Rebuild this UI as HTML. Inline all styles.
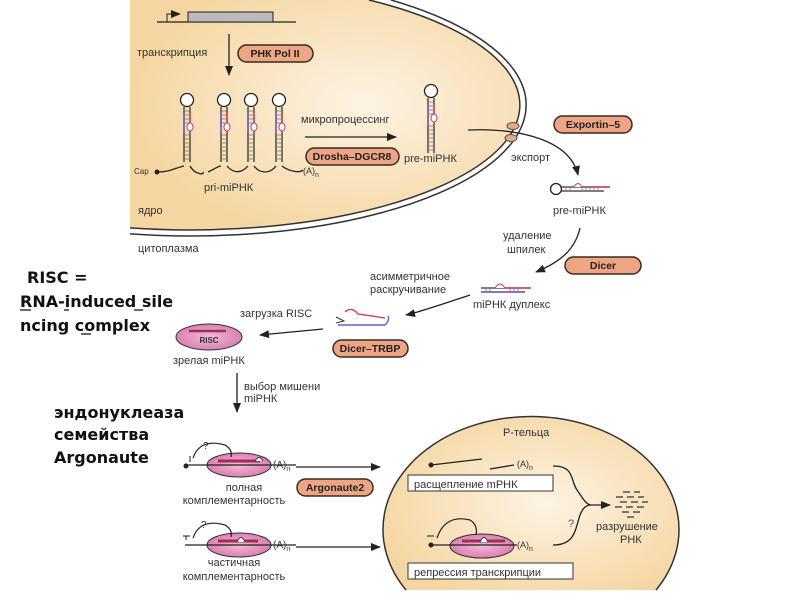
<!DOCTYPE html>
<html><head><meta charset="utf-8"><style>
html,body{margin:0;padding:0;background:#fff;width:800px;height:600px;overflow:hidden;}
svg{display:block;font-family:"Liberation Sans","DejaVu Sans",sans-serif;}
.t{font-size:11px;fill:#333;}
.b{font-family:"DejaVu Sans","Liberation Sans",sans-serif;font-weight:bold;font-size:16px;fill:#111;}
.pill{fill:#eda584;stroke:#3a2a22;stroke-width:1.5;}
.pt{font-size:10.5px;font-weight:bold;fill:#222;}
</style></head><body>
<svg width="800" height="600" viewBox="0 0 800 600">
<defs>
<radialGradient id="g1" cx="0.6" cy="0.45" r="0.6"><stop offset="0" stop-color="#fdf3e3"/><stop offset="1" stop-color="#f5d6a2"/></radialGradient>
<radialGradient id="g2" cx="0.55" cy="0.5" r="0.6"><stop offset="0" stop-color="#fdf3e3"/><stop offset="1" stop-color="#f5d6a2"/></radialGradient>
<radialGradient id="pk" cx="0.5" cy="0.5" r="0.6"><stop offset="0" stop-color="#f3b8d8"/><stop offset="1" stop-color="#d477aa"/></radialGradient>
<marker id="ar" markerWidth="10" markerHeight="8" refX="9" refY="4" orient="auto" markerUnits="userSpaceOnUse"><path d="M0,0 L10,4 L0,8 Z" fill="#222"/></marker>
<g id="hp">
<circle cx="0" cy="-7" r="6.5" fill="#fff" stroke="#222" stroke-width="1.3"/>
<path d="M-3,0 V55 M3,0 V55" stroke="#333" stroke-width="1.3"/>
<path d="M-3,4H3M-3,8H3M-3,12H3M-3,16H3M-3,28H3M-3,32H3M-3,36H3M-3,40H3M-3,44H3M-3,48H3M-3,52H3" stroke="#777" stroke-width="0.8"/>
<path d="M-3,6 V26" stroke="#6a5acd" stroke-width="1.5"/>
<path d="M3,6 V26" stroke="#d04060" stroke-width="1.5"/>
<ellipse cx="3" cy="20" rx="3" ry="4" fill="#fff" stroke="#c04060"/>
</g>
</defs>

<!-- nucleus -->
<path d="M130,0 L369,0 A330,125 0 0,1 130,227.9 Z" fill="url(#g1)" stroke="none"/>
<path d="M369,0 A330,125 0 0,1 130,227.9" fill="none" stroke="#333" stroke-width="1.5"/>
<path d="M391,0 A336,131 0 0,1 130,233.9" fill="none" stroke="#333" stroke-width="1.5"/>
<ellipse cx="513" cy="126" rx="6" ry="3.5" fill="#eda584" stroke="#555"/>
<ellipse cx="511" cy="138" rx="6" ry="3.5" fill="#eda584" stroke="#555"/>

<!-- gene -->
<path d="M157,22 H296" stroke="#222" stroke-width="1.3"/>
<rect x="188" y="12" width="85" height="10" fill="#bbb" stroke="#222"/>
<path d="M167,22 V14 H180" stroke="#222" fill="none" marker-end="url(#ar)"/>
<path d="M229,34 V75" stroke="#222" stroke-width="1.3" marker-end="url(#ar)"/>
<text class="t" x="137" y="56">транскрипция</text>
<rect class="pill" x="238" y="45" width="75" height="17" rx="8.5"/>
<text class="pt" x="275" y="57" text-anchor="middle">РНК Pol II</text>

<use href="#hp" x="187" y="107"/>
<use href="#hp" x="224" y="107"/>
<use href="#hp" x="251" y="107"/>
<use href="#hp" x="279" y="107"/>
<path d="M158,172 C170,172 175,168 184,166 M190,166 C195,175 205,175 203,172 M208,172 C215,169 218,166 221,166 M227,166 C232,172 240,175 248,166 M254,166 C260,174 270,174 276,166 M282,166 C290,172 300,173 303,170" stroke="#222" stroke-width="1.3" fill="none"/>
<circle cx="157" cy="172" r="2.5" fill="#222"/>
<text x="134" y="174" font-size="8" fill="#333">Cap</text>
<text x="303" y="174" font-size="9" fill="#333">(A)<tspan font-size="7" dy="3">n</tspan></text>
<text class="t" x="204" y="191">pri-miРНК</text>
<text class="t" x="138" y="214">ядро</text>
<text class="t" x="138" y="252">цитоплазма</text>

<path d="M305,137 H396" stroke="#222" stroke-width="1.3" marker-end="url(#ar)"/>
<text class="t" x="301" y="123">микропроцессинг</text>
<rect class="pill" x="306" y="148" width="93" height="17" rx="8.5"/>
<text class="pt" x="352" y="160" text-anchor="middle">Drosha–DGCR8</text>
<use href="#hp" x="431" y="98"/>
<text class="t" x="404" y="162">pre-miРНК</text>

<path d="M468,130 C520,128 570,140 578,175" stroke="#222" stroke-width="1.3" fill="none" marker-end="url(#ar)"/>
<text class="t" x="511" y="161">экспорт</text>
<rect class="pill" x="554" y="116" width="78" height="17" rx="8.5"/>
<text class="pt" x="593" y="128" text-anchor="middle">Exportin–5</text>
<circle cx="556" cy="189" r="5.5" fill="#fff" stroke="#222" stroke-width="1.3"/>
<path d="M561,187 H610 M561,191 H604" stroke="#333" stroke-width="1.3"/>
<path d="M566,187 V191 M570,187V191 M582,187V191 M586,187V191 M590,187V191 M594,187V191 M598,187V191" stroke="#777" stroke-width="0.8"/>
<path d="M574,187 Q578,180 582,187" fill="#fff" stroke="#c04060"/>
<path d="M586,187 H610" stroke="#d04060" stroke-width="1.5"/>
<text class="t" x="553" y="214">pre-miРНК</text>

<path d="M580,228 C575,250 560,262 536,272" stroke="#222" stroke-width="1.3" fill="none" marker-end="url(#ar)"/>
<text class="t" x="503" y="239">удаление</text>
<text class="t" x="507" y="253">шпилек</text>
<rect class="pill" x="565" y="257" width="76" height="17" rx="8.5"/>
<text class="pt" x="603" y="269" text-anchor="middle">Dicer</text>
<path d="M481,288 H531 M481,292 H525" stroke="#333" stroke-width="1.3"/>
<path d="M481,292 H522" stroke="#6a5acd" stroke-width="1.4"/>
<path d="M495,288 Q500,280 505,288" fill="#fff" stroke="#c04060"/>
<path d="M505,288 H531" stroke="#d04060" stroke-width="1.4"/>
<path d="M486,288V292 M490,288V292 M510,288V292 M514,288V292 M518,288V292" stroke="#777" stroke-width="0.8"/>
<text class="t" x="473" y="308">miРНК дуплекс</text>

<path d="M470,295 C440,305 420,312 406,315" stroke="#222" stroke-width="1.3" fill="none" marker-end="url(#ar)"/>
<text class="t" x="370" y="280">асимметричное</text>
<text class="t" x="370" y="293">раскручивание</text>
<path d="M345,312 Q352,306 358,314 L385,318" stroke="#d04060" stroke-width="1.4" fill="none"/>
<path d="M338,325 H385 Q390,320 388,316" stroke="#6a5acd" stroke-width="1.4" fill="none"/>
<path d="M336,317 L344,321 L336,323" stroke="#333" fill="none"/>
<text class="t" x="240" y="317">загрузка RISC</text>
<rect class="pill" x="333" y="340" width="75" height="17" rx="8.5"/>
<text class="pt" x="370" y="352" text-anchor="middle">Dicer–TRBP</text>
<path d="M323,329 L260,335" stroke="#222" stroke-width="1.3" marker-end="url(#ar)"/>

<ellipse cx="209" cy="337" rx="33" ry="13" fill="url(#pk)" stroke="#333"/>
<path d="M189,331 H226" stroke="#a03050" stroke-width="2.5"/>
<text x="209" y="343" font-size="8" font-weight="bold" fill="#333" text-anchor="middle">RISC</text>
<text class="t" x="173" y="364">зрелая miРНК</text>
<path d="M237,373 V412" stroke="#222" stroke-width="1.3" marker-end="url(#ar)"/>
<text class="t" x="244" y="390">выбор мишени</text>
<text class="t" x="244" y="402">miРНК</text>

<ellipse cx="239" cy="465" rx="32" ry="12" fill="url(#pk)" stroke="#333"/>
<path d="M185,465 H296" stroke="#222" stroke-width="1.3"/>
<circle cx="186" cy="466" r="2.5" fill="#222"/>
<path d="M218,461 H260" stroke="#a03050" stroke-width="3"/>
<path d="M255,461 Q259,454 263,461" fill="#fff" stroke="#333"/>
<path d="M193,458 Q200,438 225,445 Q233,450 231,457" stroke="#222" fill="none" stroke-width="1.2"/>
<path d="M190,456 V462" stroke="#222"/>
<text x="203" y="449" font-size="10" fill="#333">?</text>
<text x="273" y="468" font-size="10" fill="#333">(A)<tspan font-size="7" dy="3">n</tspan></text>
<path d="M296,467 H380" stroke="#222" stroke-width="1.3" marker-end="url(#ar)"/>
<text class="t" x="244" y="491" text-anchor="middle">полная</text>
<text class="t" x="234" y="504" text-anchor="middle">комплементарность</text>
<rect class="pill" x="297" y="479" width="76" height="17" rx="8.5"/>
<text class="pt" x="335" y="491" text-anchor="middle">Argonaute2</text>

<ellipse cx="239" cy="545" rx="32" ry="12" fill="url(#pk)" stroke="#333"/>
<path d="M185,545 H296" stroke="#222" stroke-width="1.3"/>
<path d="M218,541 H258" stroke="#a03050" stroke-width="3"/>
<path d="M237,542 Q241,533 245,542" fill="#fff" stroke="#333"/>
<path d="M193,538 Q200,518 225,525 Q233,530 231,537" stroke="#222" fill="none" stroke-width="1.2"/>
<path d="M183,536 H190 M186,536 V540" stroke="#222"/>
<text x="201" y="528" font-size="10" fill="#333">?</text>
<text x="273" y="548" font-size="10" fill="#333">(A)<tspan font-size="7" dy="3">n</tspan></text>
<path d="M296,547 H380" stroke="#222" stroke-width="1.3" marker-end="url(#ar)"/>
<text class="t" x="234" y="566" text-anchor="middle">частичная</text>
<text class="t" x="234" y="580" text-anchor="middle">комплементарность</text>

<path d="M406,590 A148,113 0 1,1 656,590 Z" fill="url(#g2)" stroke="none"/>
<path d="M406,590 A148,113 0 1,1 656,590" fill="none" stroke="#333" stroke-width="1.5"/>
<text class="t" x="503" y="436">Р-тельца</text>
<circle cx="431" cy="465" r="2.5" fill="#222"/>
<path d="M431,465 L482,459 M490,469 L514,465" stroke="#222" stroke-width="1.3"/>
<text x="517" y="467" font-size="9" fill="#333">(A)<tspan font-size="7" dy="3">n</tspan></text>
<rect x="408" y="475" width="145" height="16" fill="#fff" stroke="#333"/>
<text class="t" x="414" y="488">расщепление mРНК</text>
<ellipse cx="482" cy="546" rx="32" ry="12" fill="url(#pk)" stroke="#333"/>
<path d="M431,545 H517" stroke="#222" stroke-width="1.3"/>
<circle cx="431" cy="545" r="2.5" fill="#222"/>
<path d="M462,541 H505" stroke="#a03050" stroke-width="3"/>
<path d="M480,542 Q484,533 488,542" fill="#fff" stroke="#333"/>
<path d="M437,538 Q445,514 470,520 Q478,525 476,535" stroke="#222" fill="none" stroke-width="1.2"/>
<path d="M427,536 H434" stroke="#222"/>
<text x="517" y="548" font-size="9" fill="#333">(A)<tspan font-size="7" dy="3">n</tspan></text>
<rect x="408" y="563" width="165" height="16" fill="#fff" stroke="#333"/>
<text class="t" x="414" y="576">репрессия транскрипции</text>
<path d="M553,466 C575,466 570,480 577,490 C582,497 585,503 590,505 H610" stroke="#222" stroke-width="1.3" fill="none" marker-end="url(#ar)"/>
<path d="M553,545 C575,545 575,530 580,515 C583,508 585,506 590,505" stroke="#222" stroke-width="1.3" fill="none"/>
<text x="568" y="527" font-size="11" fill="#555">?</text>
<path d="M623,492h7M634,492h6M616,497h7M627,497h7M638,497h6M620,502h7M631,502h7M642,502h6M615,507h7M626,507h7M637,507h7M622,512h7M633,512h7M627,517h7" stroke="#333" stroke-width="1.3"/>
<text class="t" x="596" y="530">разрушение</text>
<text class="t" x="620" y="543">РНК</text>

<text class="b" x="27" y="283">RISC =</text>
<text class="b" x="20" y="307">RNA-induced sile</text>
<text class="b" x="20" y="331">ncing complex</text>
<path d="M20,310 H31 M64,310 H69 M134,310 H143 M81,334 H91" stroke="#111" stroke-width="1.3"/>
<text class="b" x="54" y="418">эндонуклеаза</text>
<text class="b" x="54" y="440">семейства</text>
<text class="b" x="54" y="463">Argonaute</text>
</svg>
</body></html>
